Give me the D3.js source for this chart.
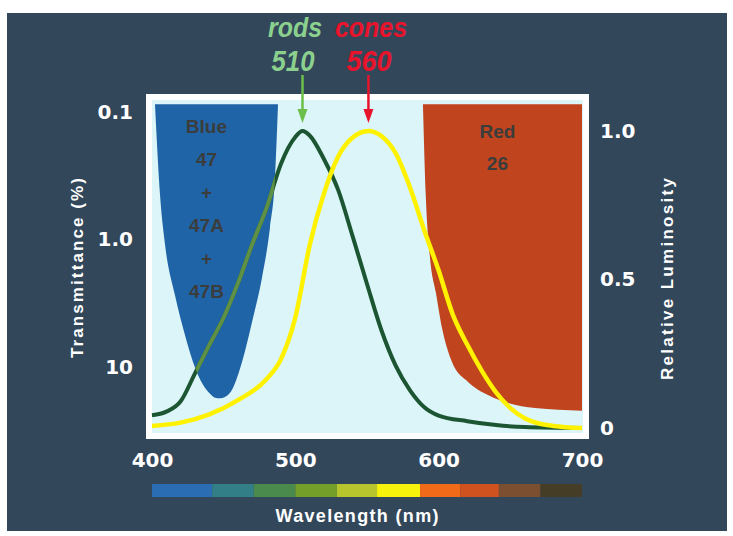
<!DOCTYPE html>
<html>
<head>
<meta charset="utf-8">
<script src="https://cdn.jsdelivr.net/npm/d3@7/dist/d3.min.js"></script>
<style>
  body { margin: 0; background: #fff; }
  svg { display: block; }
</style>
</head>
<body>
<svg id="chart" width="733" height="536"></svg>
<script>
// ---- data ----
const wavelengthTicks = [400, 500, 600, 700];
const transmittanceTicks = [0.1, 1, 10];
const transmittanceTickLabels = ["0.1", "1.0", "10"];
const luminosityTicks = [0, 0.5, 1];
const luminosityTickLabels = ["0", "0.5", "1.0"];

// scotopic (rods) luminosity curve
const rodsWl  = [400, 410, 420, 430, 440, 450, 460, 470, 480, 490, 500, 505, 510, 520, 530, 540, 550, 560, 570, 580, 590, 600, 620, 640, 660, 700];
const rodsLum = [0.043, 0.055, 0.09, 0.184, 0.28, 0.372, 0.488, 0.62, 0.742, 0.89, 0.98, 1.0, 0.985, 0.905, 0.8, 0.645, 0.485, 0.33, 0.21, 0.127, 0.07, 0.042, 0.023, 0.01, 0.003, 0.0];

// photopic (cones) luminosity curve
const conesWl  = [400, 420, 440, 460, 480, 490, 500, 510, 520, 530, 540, 551, 560, 570, 580, 590, 600, 610, 620, 630, 640, 650, 660, 670, 680, 700];
const conesLum = [0.007, 0.018, 0.046, 0.094, 0.165, 0.232, 0.372, 0.615, 0.79, 0.915, 0.978, 1.0, 0.983, 0.925, 0.81, 0.665, 0.53, 0.38, 0.28, 0.193, 0.12, 0.067, 0.033, 0.015, 0.007, 0.0];

// filter transmittance (%), log axis, filled up to the top of the plot
const blueFilterWl = [402.1, 405.6, 409.1, 416, 423, 428.6, 435.6, 441, 444, 447.5, 450.9, 456.5, 462.8, 469.8, 476.7, 482.3, 485.8, 487.9];
const blueFilterT  = [0.088, 0.448, 1.1, 2.73, 5.62, 9.14, 13.8, 16.4, 17.4, 17.6, 17.2, 14.6, 9.14, 4.43, 2.0, 0.81, 0.33, 0.088];
const redFilterWl = [589, 591, 594, 598, 602.3, 609.3, 620.5, 634.4, 648.4, 667.2, 700];
const redFilterT  = [0.085, 0.45, 1.4, 2.58, 4.93, 9.14, 13.1, 16.6, 19.2, 21, 22];
const tTop = 0.087;

const blueLabelLines = ["Blue", "47", "+", "47A", "+", "47B"];
const redLabelLines = ["Red", "26"];

const peakNames = ["rods", "cones"];
const peakValues = ["510", "560"];
const peakWl = [505, 551];

// spectrum strip under the x axis
const spectrumEdges = [400, 442, 471, 500, 529, 557, 587, 615, 642, 671, 700];
const spectrumColors = ["#2b6db2", "#327f88", "#4a8a4c", "#74a02a", "#b9c52c", "#f6f20c", "#f06a18", "#d0521e", "#7b4f30", "#463d26"];

// ---- layout ----
const svg = d3.select("#chart");
const bg = "#33475b";
const white = "#ffffff";

const x = d3.scaleLinear().domain([400, 700]).range([152, 582]);
const yT = d3.scaleLog().domain([0.1, 10]).range([112, 367]);
const yL = d3.scaleLinear().domain([0, 1]).range([428, 131]);

const inner = { top: 100, bottom: 433 };

svg.append("rect")
    .attr("x", 7).attr("y", 13)
    .attr("width", 720).attr("height", 518)
    .attr("fill", bg);

// white frame + light plot area
svg.append("rect")
    .attr("x", x(400) - 6).attr("y", inner.top - 6)
    .attr("width", x(700) - x(400) + 13).attr("height", inner.bottom - inner.top + 12)
    .attr("fill", white);
svg.append("rect")
    .attr("x", x(400)).attr("y", inner.top)
    .attr("width", x(700) - x(400) + 1).attr("height", inner.bottom - inner.top)
    .attr("fill", "#dcf5f8");

// filter areas
const filterArea = d3.area()
    .x(d => x(d[0]))
    .y0(yT(tTop))
    .y1(d => yT(d[1]))
    .curve(d3.curveMonotoneX);

const blueData = d3.zip(blueFilterWl, blueFilterT);
const redData = d3.zip(redFilterWl, redFilterT);

svg.append("path").attr("d", filterArea(blueData)).attr("fill", "#2064a8");
svg.append("path").attr("d", filterArea(redData)).attr("fill", "#c0441d");

svg.append("clipPath").attr("id", "blueClip")
    .append("path").attr("d", filterArea(blueData));

// filter names
const labelFont = "'Liberation Sans', Arial, sans-serif";
svg.append("g").selectAll("text")
    .data(blueLabelLines)
    .join("text")
    .attr("x", x(438))
    .attr("y", (d, i) => 133 + i * 33)
    .attr("text-anchor", "middle")
    .attr("font-family", labelFont)
    .attr("font-weight", "bold")
    .attr("font-size", 19)
    .attr("fill", "#3b3d3c")
    .text(d => d);

svg.append("g").selectAll("text")
    .data(redLabelLines)
    .join("text")
    .attr("x", x(641))
    .attr("y", (d, i) => 138 + i * 32)
    .attr("text-anchor", "middle")
    .attr("font-family", labelFont)
    .attr("font-weight", "bold")
    .attr("font-size", 19)
    .attr("fill", "#3b3d3c")
    .text(d => d);

// luminosity curves
const lumLine = d3.line()
    .x(d => x(d[0]))
    .y(d => yL(d[1]))
    .curve(d3.curveMonotoneX);

const rodsData = d3.zip(rodsWl, rodsLum);
const conesData = d3.zip(conesWl, conesLum);

svg.append("path")
    .attr("d", lumLine(rodsData))
    .attr("fill", "none")
    .attr("stroke", "#1b5532")
    .attr("stroke-width", 4);
// rods curve looks lighter where it crosses the blue filter
svg.append("path")
    .attr("d", lumLine(rodsData))
    .attr("clip-path", "url(#blueClip)")
    .attr("fill", "none")
    .attr("stroke", "#5e9146")
    .attr("stroke-width", 4);

svg.append("path")
    .attr("d", lumLine(conesData))
    .attr("fill", "none")
    .attr("stroke", "#fff200")
    .attr("stroke-width", 4.5);

// peak arrows + labels
const peakColors = ["#6cbf4a", "#e8142c"];
const peakTextColors = ["#8cd08e", "#e8142c"];
const peakNameWidths = [54, 72];
const peakValueWidths = [43, 45];
const labelCx = [295, 371];

peakWl.forEach((w, i) => {
    const px = x(w);
    svg.append("line")
        .attr("x1", px).attr("x2", px)
        .attr("y1", 75).attr("y2", 112)
        .attr("stroke", peakColors[i])
        .attr("stroke-width", 2.5);
    svg.append("path")
        .attr("d", `M${px - 5},109 L${px + 5},109 L${px},123 Z`)
        .attr("fill", peakColors[i]);

    svg.append("text")
        .attr("x", labelCx[i]).attr("y", 37)
        .attr("text-anchor", "middle")
        .attr("font-family", labelFont)
        .attr("font-style", "italic")
        .attr("font-weight", "bold")
        .attr("font-size", 28)
        .attr("textLength", peakNameWidths[i])
        .attr("lengthAdjust", "spacingAndGlyphs")
        .attr("fill", peakTextColors[i])
        .text(peakNames[i]);
    svg.append("text")
        .attr("x", labelCx[i] - 2).attr("y", 71)
        .attr("text-anchor", "middle")
        .attr("font-family", labelFont)
        .attr("font-style", "italic")
        .attr("font-weight", "bold")
        .attr("font-size", 29)
        .attr("textLength", peakValueWidths[i])
        .attr("lengthAdjust", "spacingAndGlyphs")
        .attr("fill", peakTextColors[i])
        .text(peakValues[i]);
});

// axes
const tickFont = "'DejaVu Sans', Verdana, sans-serif";
const styleAxis = function (g) {
    g.select(".domain").remove();
    g.selectAll("text")
        .attr("fill", white)
        .attr("font-family", tickFont)
        .attr("font-weight", "bold")
        .attr("font-size", 20);
};

svg.append("g")
    .attr("transform", "translate(133,0)")
    .call(d3.axisLeft(yT).tickValues(transmittanceTicks)
        .tickFormat((d, i) => transmittanceTickLabels[i])
        .tickSize(0).tickPadding(0))
    .call(styleAxis);

svg.append("g")
    .attr("transform", "translate(600,0)")
    .call(d3.axisRight(yL).tickValues(luminosityTicks)
        .tickFormat((d, i) => luminosityTickLabels[i])
        .tickSize(0).tickPadding(0))
    .call(styleAxis);

svg.append("g")
    .attr("transform", "translate(0,453)")
    .call(d3.axisBottom(x).tickValues(wavelengthTicks)
        .tickFormat(d3.format("d"))
        .tickSize(0).tickPadding(0))
    .call(styleAxis);

// spectrum strip
svg.append("g").selectAll("rect")
    .data(spectrumColors)
    .join("rect")
    .attr("x", (d, i) => x(spectrumEdges[i]))
    .attr("width", (d, i) => x(spectrumEdges[i + 1]) - x(spectrumEdges[i]))
    .attr("y", 484)
    .attr("height", 13)
    .attr("fill", d => d);

// axis titles
const titleStyle = function (t) {
    t.attr("fill", white)
        .attr("font-family", labelFont)
        .attr("font-weight", "bold")
        .attr("font-size", 17)
        .attr("text-anchor", "middle")
        .attr("lengthAdjust", "spacing");
};

svg.append("text")
    .attr("x", 357).attr("y", 522)
    .attr("textLength", 163)
    .call(titleStyle)
    .attr("font-size", 18)
    .text("Wavelength (nm)");

svg.append("text")
    .attr("transform", "translate(83,268) rotate(-90)")
    .attr("textLength", 180)
    .call(titleStyle)
    .text("Transmittance (%)");

svg.append("text")
    .attr("transform", "translate(673,279) rotate(-90)")
    .attr("textLength", 202)
    .call(titleStyle)
    .text("Relative Luminosity");
</script>
</body>
</html>
